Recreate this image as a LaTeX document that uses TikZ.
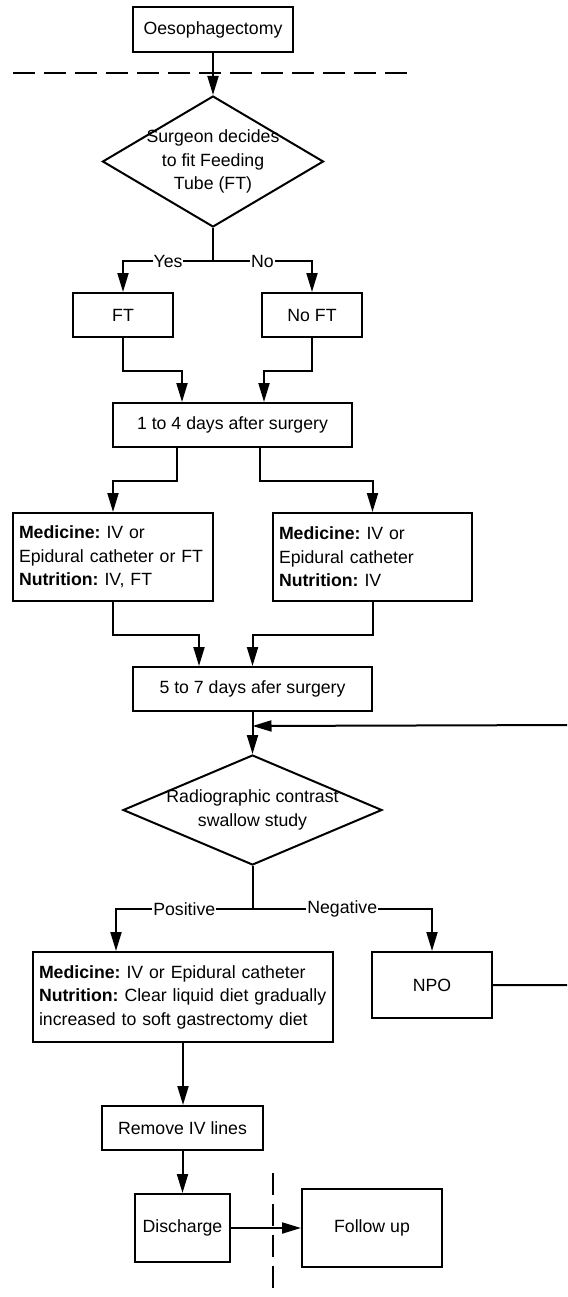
\documentclass[tikz,border=0pt]{standalone}
\usepackage{fontspec}
\setmainfont{Liberation Sans}
\usetikzlibrary{arrows.meta,shapes.geometric}

\begin{document}
\frenchspacing
\hyphenpenalty=10000
\begin{tikzpicture}[x=1pt,y=-1pt,
  every node/.style={font=\fontsize{17.7}{23.5}\selectfont},
  box/.style={draw, line width=2pt, inner sep=0pt, align=center},
  infobox/.style={draw, line width=2pt, inner xsep=6pt, inner ysep=0pt, align=left},
  decision/.style={draw, diamond, line width=2pt, inner sep=0pt},
  conn/.style={line width=2pt},
  arr/.style={conn, -{Triangle[length=19pt,width=11pt]}},
  lbl/.style={fill=white, inner sep=1pt},
  phase/.style={line width=1.6pt, dash pattern=on 22pt off 9pt}
]
\path[use as bounding box, clip] (0,0) rectangle (567,1297);

% phase separators
\draw[phase] (13,73) -- (412,73);
\draw[phase] (273,1173) -- (273,1297);

% steps
\node[box, minimum width=160pt, minimum height=45pt] (oes) at (213,29.5) {Oesophagectomy};
\node[decision, minimum width=221pt, minimum height=131pt,
      label={[align=center]center:{Surgeon decides\\to fit Feeding\\Tube (FT)}}] (d1) at (213,161.5) {};
\node[box, minimum width=100pt, minimum height=44pt] (ft) at (123,315) {FT};
\node[box, minimum width=100pt, minimum height=44pt] (noft) at (312,315) {No FT};
\node[box, minimum width=239pt, minimum height=44pt] (d14) at (232.5,425) {1 to 4 days after surgery};
\node[infobox, text width=188pt, minimum height=88pt] (medL) at (113,557)
  {\textbf{Medicine:} IV or\\Epidural catheter or FT\\\textbf{Nutrition:} IV, FT};
\node[infobox, text width=187pt, minimum height=88pt] (medR) at (372.5,557)
  {\textbf{Medicine:} IV or\\Epidural catheter\\\textbf{Nutrition:} IV};
\node[box, minimum width=239pt, minimum height=44pt] (d57) at (252.5,689) {5 to 7 days afer surgery};
\node[decision, minimum width=259pt, minimum height=110pt,
      label={[align=center]center:{Radiographic contrast\\swallow study}}] (d2) at (252.5,810) {};
\node[infobox, text width=292pt, inner xsep=4pt, minimum height=90pt] (medB) at (183,997)
  {\hspace*{2pt}\textbf{Medicine:} IV or Epidural catheter\\\hspace*{2pt}\textbf{Nutrition:} Clear liquid diet gradually\\\hspace*{2pt}increased to soft gastrectomy diet};
\node[box, minimum width=120pt, minimum height=66pt] (npo) at (432,985) {NPO};
\node[box, minimum width=161pt, minimum height=44pt] (rem) at (182.5,1128) {Remove IV lines};
\node[box, minimum width=95pt, minimum height=68pt] (dis) at (182.5,1228) {Discharge};
\node[box, minimum width=140pt, minimum height=78pt] (fu) at (372,1228) {Follow up};

% connectors
\draw[arr] (oes) -- (d1);
\coordinate (j1) at (213,261);
\draw[arr] (d1.south) -- (j1) -| node[lbl,pos=0.25]{Yes} (ft.north);
\draw[arr] (j1) -| node[lbl,pos=0.25]{No} (noft.north);
\draw[arr] (ft.south) -- ++(0,33) -| ([xshift=-50.5pt]d14.north);
\draw[arr] (noft.south) -- ++(0,33) -| ([xshift=31.5pt]d14.north);
\draw[arr] ([xshift=-55.5pt]d14.south) -- ++(0,33) -| (medL.north);
\draw[arr] ([xshift=27.5pt]d14.south) -- ++(0,33) -| (medR.north);
\draw[arr] (medL.south) -- ++(0,33) -| ([xshift=-53.5pt]d57.north);
\draw[arr] (medR.south) -- ++(0,33) -| (d57.north);
\draw[arr] (d57.south) -- (d2.north);
\draw[arr] (npo.east) -- (575,985) -- (575,725) -- ([yshift=-14pt]d57.south);
\coordinate (j2) at (252.5,909);
\draw[arr] (d2.south) -- (j2) -| node[lbl,pos=0.25]{Positive} ([xshift=-67pt]medB.north);
\draw[arr] (j2) -| node[lbl,pos=0.25]{Negative} (npo.north);
\draw[arr] (medB.south) -- (medB.south |- rem.north);
\draw[arr] (rem) -- (dis);
\draw[arr] (dis) -- (fu);
\end{tikzpicture}
\end{document}
